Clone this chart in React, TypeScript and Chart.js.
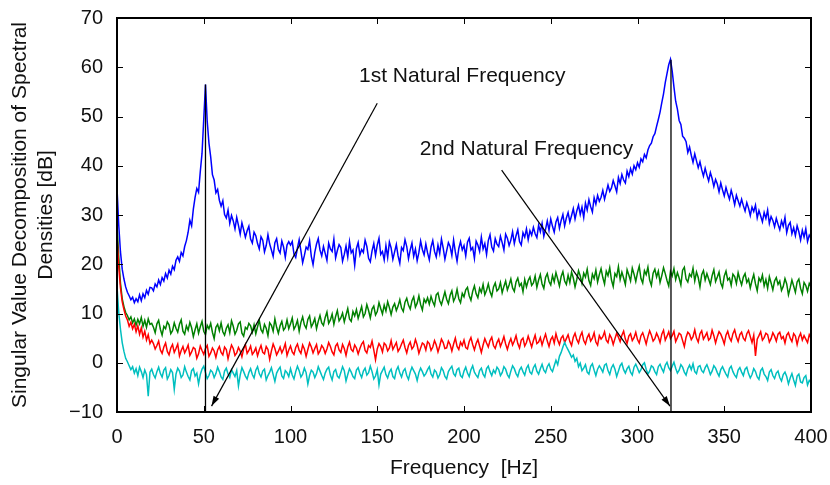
import React, { useEffect, useRef } from "react";
import { Chart, registerables } from "chart.js";

Chart.register(...registerables);

// Frequency resolution of the spectra (Hz per sample), starting at 0 Hz
const FREQ_STEP = 1;

// 1st singular value (blue), 0..400 Hz
const SV1 = [
  35.5, 28.0, 22.5, 19.0, 17.0, 15.4, 14.3, 13.6, 12.8, 13.3, 12.2, 13.0, 12.4, 13.8, 12.6, 14.0, 13.2, 14.7, 13.9, 15.3,
  15.2, 14.6, 16.0, 15.4, 16.8, 15.9, 17.3, 16.6, 18.1, 17.2, 18.8, 18.0, 19.6, 18.9, 20.8, 21.5, 20.6, 22.4, 21.7, 23.6,
  24.8, 26.5, 28.9, 27.8, 31.2, 33.6, 35.4, 34.6, 38.8, 42.5, 49.5, 56.5, 49.0, 44.6, 41.8, 38.2, 37.1, 34.5, 35.2, 33.0,
  31.8, 32.9, 30.1, 29.4, 31.0, 28.3, 29.9, 28.8, 27.2, 29.5, 27.9, 26.1, 28.4, 27.0, 25.5, 26.8, 27.7, 25.1, 24.3, 26.5,
  25.8, 24.2, 23.1, 25.6, 24.9, 22.5, 23.8, 26.0, 24.1, 22.9, 21.6, 24.4, 25.2, 23.0, 22.3, 24.7, 23.5, 21.4, 23.9, 24.6,
  23.9, 24.6, 22.1, 21.4, 23.3, 25.0, 22.7, 20.3, 21.8, 23.5, 23.0, 24.8, 21.6, 19.9, 22.4, 24.1, 25.2, 22.9, 21.7, 23.6,
  22.2, 20.8, 24.3, 23.1, 22.6, 25.1, 21.3, 22.8, 24.0, 23.4, 20.6, 22.0, 23.7, 21.5, 24.6, 22.3, 22.9, 19.8, 23.2, 24.4,
  21.9, 23.0, 22.4, 24.9, 23.6, 21.2, 20.5, 22.7, 24.2, 21.8, 23.9, 25.3, 22.0, 22.6, 20.9, 23.8, 21.4, 24.5, 23.3, 21.0,
  22.5, 24.0, 21.7, 20.2, 23.4, 22.8, 25.0, 23.6, 21.1, 22.9, 24.3, 21.6, 23.1, 20.7, 22.4, 24.7, 23.0, 21.9, 24.1, 22.3,
  20.9, 23.5, 24.8, 22.6, 21.5, 23.9, 22.2, 25.1, 23.3, 21.0, 22.7, 24.4, 23.6, 21.8, 24.9, 22.5, 20.6, 23.2, 24.6, 22.9,
  23.8, 21.7, 24.5, 25.3, 22.9, 23.4, 21.2, 24.7, 23.9, 22.6, 25.5, 23.1, 24.2, 22.0, 24.8, 26.0, 23.5, 22.7, 25.2, 24.1,
  23.6, 25.7, 24.4, 22.9, 26.1, 25.3, 23.8, 24.9, 26.6, 24.2, 25.8, 27.0, 24.6, 23.9, 26.4, 25.5, 27.2, 25.0, 26.8, 25.9,
  27.5, 26.2, 25.4, 27.9, 26.6, 28.3, 25.7, 27.1, 28.8, 26.9, 29.2, 27.7, 26.5, 28.6, 29.5, 27.3, 28.9, 30.1, 27.8, 29.4,
  30.5, 28.6, 29.9, 31.3, 29.2, 30.8, 32.0, 30.1, 31.6, 29.5, 32.4, 31.0, 33.1, 31.7, 30.6, 33.5, 32.2, 34.0, 32.8, 33.6,
  35.0, 33.2, 34.6, 36.1, 34.8, 35.5, 37.0, 35.9, 34.7, 37.6, 36.4, 38.2, 37.1, 36.5, 38.9, 37.8, 39.4, 38.3, 40.0, 39.2,
  40.6, 39.7, 41.4, 40.8, 42.3, 41.6, 43.2, 44.1, 44.6, 45.9, 46.5, 48.0, 49.4, 50.9, 52.8, 54.6, 56.9, 58.7, 60.5, 61.6,
  59.2, 56.0, 53.1, 51.5, 49.2, 48.4, 46.0, 45.6, 44.9, 42.7, 43.8, 42.1, 40.7, 42.4, 41.0, 39.6, 40.8, 39.2, 37.9, 39.5,
  38.1, 36.9, 38.6, 37.4, 35.8, 37.2, 36.3, 34.7, 36.5, 35.1, 33.9, 35.6, 34.3, 33.2, 35.0, 33.7, 32.1, 34.0, 32.9, 31.8,
  33.2, 31.9, 30.8, 32.5, 31.4, 29.9, 31.6, 30.7, 32.0, 29.4, 30.9, 29.8, 28.6, 30.5, 29.3, 31.0, 28.3, 29.7, 28.9, 27.6,
  29.3, 28.1, 27.0, 28.8, 27.7, 29.5, 26.4, 27.9, 28.5, 26.2, 27.4, 25.8, 27.8, 26.6, 24.9, 26.9, 25.5, 27.2, 24.6, 25.9,
  25.3,
];

// 2nd singular value (green)
const SV2 = [
  28.0, 21.5, 16.2, 13.0, 11.4, 10.2, 9.6, 8.7, 9.3, 8.1, 8.9, 7.6, 8.8, 7.9, 9.2, 7.4, 8.6, 7.2, 8.9, 7.8,
  8.0, 7.2, 6.1, 7.9, 8.6, 6.8, 5.6, 7.4, 6.9, 8.3, 7.7, 5.9, 6.5, 8.1, 7.0, 6.2, 7.8, 8.7, 6.4, 5.8,
  7.5, 6.6, 8.2, 7.1, 5.3, 6.7, 7.9, 6.0, 7.3, 8.4, 6.4, 5.7, 7.6, 6.9, 8.0, 6.2, 4.9, 7.2, 7.8, 6.5,
  8.1, 6.3, 5.6, 7.0, 7.7, 6.1, 8.5, 7.4, 5.8, 6.6, 7.9, 8.3, 6.0, 5.4, 7.2, 6.8, 8.0, 7.5, 6.2, 7.7,
  5.9, 7.3, 8.6, 6.7, 6.1, 7.8, 7.0, 5.5, 8.1, 7.6, 6.4, 8.9, 7.2, 6.0, 7.5, 8.4, 6.6, 7.1, 8.7, 6.9,
  7.9, 9.1, 6.8, 7.5, 8.6, 6.4, 8.2, 9.3, 7.7, 7.0, 8.8, 9.5, 7.3, 8.0, 9.0, 6.9, 8.4, 9.6, 8.1, 7.6,
  9.2, 10.3, 8.0, 8.7, 9.9, 7.8, 9.4, 10.6, 8.5, 9.1, 10.1, 8.3, 9.7, 11.0, 8.9, 8.4, 10.4, 9.5, 10.8, 9.0,
  10.2, 11.4, 9.3, 10.0, 11.8, 10.6, 9.1, 10.9, 11.5, 9.7, 10.4, 12.2, 11.0, 9.9, 11.7, 10.5, 12.4, 11.2, 9.8, 11.3,
  12.0, 10.6, 11.5, 12.8, 11.1, 10.4, 12.3, 13.1, 11.7, 10.9, 12.6, 13.4, 11.3, 12.1, 13.6, 11.8, 10.7, 12.9, 12.2, 13.2,
  11.9, 13.5, 12.4, 11.6, 13.8, 14.2, 12.6, 11.8, 13.1, 14.4, 12.9, 12.0, 13.7, 14.6, 12.5, 13.3, 14.9, 13.0, 12.2, 14.1,
  13.4, 14.8, 15.3, 13.6, 12.7, 14.5, 15.6, 14.0, 13.2, 15.1, 14.3, 15.9, 13.8, 14.7, 16.0, 14.4, 13.5, 15.4, 16.2, 14.6,
  15.0, 16.3, 14.2, 15.5, 16.6, 14.8, 15.8, 17.0, 15.2, 14.5, 16.4, 17.2, 15.6, 16.1, 14.4, 16.9, 15.4, 16.7, 17.4, 15.7,
  16.2, 17.6, 15.3, 16.8, 17.9, 16.0, 15.1, 17.3, 18.1, 16.5, 15.8, 17.7, 16.4, 18.3, 17.0, 15.6, 17.5, 18.5, 16.6, 15.9,
  17.8, 16.3, 18.4, 17.2, 15.4, 16.9, 18.7, 17.6, 16.1, 18.2, 17.4, 19.0, 16.7, 15.7, 18.0, 17.1, 18.8, 16.4, 17.9, 19.1,
  17.3, 16.0, 18.6, 17.7, 19.3, 16.8, 15.5, 18.1, 17.5, 19.5, 16.9, 18.4, 17.2, 15.9, 18.9, 17.8, 16.6, 19.2, 18.0, 16.5,
  18.3, 19.6, 17.1, 16.2, 18.7, 17.9, 19.4, 16.8, 15.7, 18.2, 19.0, 17.4, 18.6, 16.3, 17.7, 19.3, 18.1, 16.7, 15.6, 18.5,
  17.6, 19.1, 16.9, 18.3, 17.2, 15.8, 18.8, 19.4, 17.0, 16.4, 18.0, 17.5, 19.2, 16.6, 18.4, 17.3, 15.4, 17.9, 18.7, 16.8,
  18.1, 17.0, 15.9, 17.7, 18.9, 16.5, 17.4, 18.4, 16.2, 15.3, 17.6, 18.6, 16.8, 17.2, 15.7, 18.0, 17.5, 16.1, 18.3, 16.9,
  15.8, 17.4, 18.1, 16.3, 17.0, 15.2, 16.7, 17.9, 16.0, 14.6, 17.2, 16.5, 17.8, 15.6, 16.9, 15.1, 17.5, 16.2, 14.8, 16.6,
  17.3, 15.9, 16.6, 14.7, 15.5, 17.1, 16.0, 13.8, 15.2, 16.8, 15.6, 14.3, 16.4, 17.0, 15.1, 14.0, 16.3, 15.7, 14.5, 16.1,
  15.4,
];

// 3rd singular value (red)
const SV3 = [
  26.0, 19.5, 15.2, 12.4, 10.8, 9.5, 8.7, 7.4, 8.2, 6.9, 7.8, 6.3, 7.5, 5.8, 7.1, 5.2, 6.4, 4.6, 5.7, 3.9,
  4.6, 3.9, 2.8, 3.5, 4.4, 2.6, 1.9, 3.2, 4.0, 2.3, 1.6, 3.0, 3.7, 2.1, 2.9, 3.8, 1.4, 2.5, 3.3, 2.0,
  2.7, 3.6, 1.5, 2.2, 3.1, 2.8, 0.9, 1.8, 3.4, 2.5, 1.7, 2.9, 3.5, 1.3, 2.0, 3.0, 2.4, 1.1, 2.6, 3.3,
  2.1, 1.6, 3.2, 2.7, 0.8, 2.3, 3.6, 2.9, 1.5, 2.0, 3.1, 2.4, 1.2, 2.8, 3.7, 1.9, 2.5, 3.4, 1.7, 2.2,
  3.0, 1.4, 2.6, 3.5, 2.1, 1.8, 3.3, 2.7, 0.7, 2.4, 3.8, 2.9, 1.6, 2.3, 3.2, 2.0, 2.8, 3.9, 1.5, 2.6,
  3.4, 2.2, 1.7, 3.1, 3.8, 2.5, 1.9, 3.6, 2.8, 1.3, 2.7, 4.0, 3.2, 2.0, 2.9, 3.7, 1.8, 2.4, 3.5, 3.0,
  1.9, 2.8, 4.1, 3.3, 2.2, 1.6, 3.4, 3.9, 2.6, 2.1, 3.7, 2.9, 1.5, 3.2, 4.2, 2.7, 2.3, 3.6, 3.0, 1.8,
  2.9, 3.8, 4.3, 2.5, 2.0, 3.5, 3.1, 4.4, 2.6, 0.6, 2.8, 3.9, 3.3, 2.2, 4.0, 3.6, 2.4, 3.0, 4.5, 2.7,
  3.4, 4.1, 2.3, 2.9, 3.8, 4.6, 3.1, 2.0, 3.5, 4.2, 2.8, 3.3, 4.7, 3.6, 1.9, 3.0, 4.0, 3.7, 2.6, 4.3,
  3.9, 2.5, 3.2, 4.5, 3.6, 2.2, 3.4, 4.8, 4.1, 2.9, 3.0, 4.4, 3.7, 2.4, 3.8, 5.0, 3.3, 2.7, 4.2, 3.5,
  4.6, 3.1, 2.8, 4.3, 5.1, 3.7, 2.6, 3.9, 4.7, 3.4, 2.1, 3.6, 4.9, 4.0, 3.2, 4.5, 5.2, 3.5, 2.9, 4.1,
  4.8, 3.3, 4.2, 5.3, 3.8, 2.7, 4.0, 4.9, 3.6, 4.4, 5.5, 3.9, 3.0, 4.6, 5.0, 3.4, 4.1, 5.4, 4.3, 3.2,
  4.5, 5.6, 3.9, 4.2, 5.1, 3.6, 4.8, 5.8, 4.4, 3.3, 4.7, 5.3, 4.0, 5.9, 4.6, 3.7, 5.0, 5.5, 4.1, 4.9,
  5.7, 4.3, 3.5, 5.2, 6.0, 4.7, 4.0, 5.4, 6.2, 4.5, 3.8, 5.1, 5.8, 4.4, 5.0, 6.1, 4.2, 3.6, 5.5, 4.8,
  5.3, 6.3, 4.6, 4.1, 5.7, 5.0, 3.7, 4.9, 6.0, 5.2, 4.3, 5.6, 6.4, 4.8, 3.9, 5.4, 5.9, 4.5, 5.1, 6.2,
  4.7, 4.0, 5.5, 6.1, 5.0, 3.8, 5.3, 6.5, 5.6, 4.4, 4.9, 6.0, 5.2, 4.1, 5.8, 6.6, 4.6, 5.4, 6.3, 4.9,
  5.5, 6.4, 4.3, 5.1, 6.0, 5.7, 4.5, 3.3, 5.2, 6.2, 5.8, 4.7, 5.3, 6.7, 5.0, 4.2, 5.9, 6.5, 4.8, 5.4,
  6.1, 4.6, 5.0, 6.6, 5.5, 4.0, 5.3, 6.3, 5.8, 4.9, 3.8, 5.6, 6.4, 5.1, 4.4, 5.9, 6.7, 5.2, 4.3, 5.7,
  6.2, 5.0, 4.5, 5.9, 6.5, 5.3, 4.1, 5.6, 1.4, 4.8, 5.5, 6.3, 4.6, 5.1, 6.0, 5.7, 4.2, 4.9, 6.1, 5.4,
  4.4, 5.8, 6.2, 4.9, 5.3, 4.0, 5.6, 6.1, 5.0, 4.3, 5.9, 5.4, 3.7, 5.2, 6.0, 4.6, 5.5, 4.8, 4.1, 5.7,
  5.0,
];

// 4th singular value (cyan)
const SV4 = [
  15.5, 10.2, 6.8, 4.1, 2.3, 0.9, 0.2, -0.6, -1.4, -0.8, -2.1, -1.2, -2.6, -0.9, -1.8, -3.0, -1.5, -2.4, -6.8, -1.9,
  -1.3, -2.4, -3.1, -1.8, -0.9, -2.2, -2.9, -1.5, -1.0, -3.3, -2.6, -1.4, -2.0, -5.4, -2.3, -1.1, -1.7, -3.0, -2.5, -0.8,
  -1.9, -2.8, -3.5, -1.6, -1.2, -2.7, -2.1, -4.3, -2.4, -1.3, -0.7, -2.0, -3.2, -2.6, -1.5, -1.9, -3.0, -2.2, -0.9, -1.8,
  -2.9, -3.4, -1.7, -1.1, -2.3, -3.0, -1.4, -2.1, -2.8, -1.6, -4.7, -2.5, -1.0, -1.8, -2.7, -3.3, -2.0, -1.2, -2.4, -3.1,
  -1.5, -0.8, -2.2, -2.9, -1.7, -1.3, -3.5, -2.6, -1.9, -1.0, -2.4, -3.8, -2.1, -1.4, -0.9, -2.7, -3.2, -1.6, -2.0, -2.8,
  -1.2, -2.5, -3.3, -1.8, -0.7, -1.6, -2.9, -2.3, -1.1, -2.0, -4.3, -2.6, -1.5, -1.9, -3.0, -2.2, -0.8, -1.7, -2.6, -3.4,
  -2.1, -1.3, -0.9, -2.5, -3.5, -1.8, -1.4, -2.7, -3.1, -2.0, -0.8, -1.6, -3.7, -2.4, -1.2, -1.9, -2.8, -3.2, -1.5, -1.0,
  -2.2, -3.0, -1.7, -1.1, -2.5, -2.0, -0.7, -1.8, -3.3, -2.7, -1.4, -4.5, -2.3, -1.6, -0.9, -2.4, -3.1, -1.9, -1.3, -2.8,
  -3.2, -1.5, -0.8, -2.1, -2.9, -1.7, -1.2, -2.6, -3.4, -1.9, -0.9, -1.6, -2.3, -3.6, -2.0, -1.1, -1.8, -2.7, -2.2, -1.4,
  -0.8, -2.3, -2.9, -1.5, -1.9, -3.1, -2.4, -1.0, -1.6, -2.8, -3.3, -1.8, -1.2, -0.7, -2.2, -2.7, -1.4, -1.1, -2.6, -3.0,
  -1.7, -0.9, -2.1, -2.8, -1.4, -0.6, -1.9, -2.5, -3.0, -1.6, -1.1, -2.3, -2.9, -1.2, -0.7, -1.8, -2.6, -1.5, -2.1, -0.9,
  -1.4, -2.6, -2.0, -0.8, -1.3, -2.4, -3.0, -1.7, -0.6, -1.2, -2.2, -2.8, -1.5, -0.9, -1.8, -2.5, -1.1, -0.5, -1.9, -2.3,
  -1.0, -0.4, -1.7, -2.3, -1.2, -0.3, -1.5, -2.0, -0.8, -0.2, -1.3, -1.8, -0.6, 0.5, -0.4, 1.3, 2.1, 3.2, 4.1, 3.3,
  2.6, 1.9, 1.1, 1.6, 0.3, 0.9, -0.8, -0.1, -1.6, -1.1, -0.4, -1.9, -2.3, -0.7, -0.2, -1.5, -2.6, -1.3, -0.6, -1.2,
  -1.9, -0.5, -0.2, -1.6, -2.4, -1.0, -0.4, -1.3, -2.8, -1.7, -0.6, -0.1, -1.4, -2.1, -1.2, -0.7, -1.9, -2.5, -0.9, -0.3,
  -1.1, -2.0, -1.4, -0.4, 0.0, -1.3, -2.3, -1.7, -0.6, -0.9, -1.8, -2.4, -0.8, -0.3, -1.2, -1.9, -0.5, 0.1, -1.0, -1.6,
  -0.7, 0.1, -1.1, -2.1, -1.5, -0.4, -0.9, -1.9, -2.5, -1.2, -0.5, -1.4, -0.2, -1.8, -2.2, -0.8, -0.6, -1.6, -2.0, -1.0,
  -0.4, -1.3, -2.4, -1.7, -0.6, -1.1, -2.0, -2.7, -1.4, -0.8, -1.6, -2.3, -2.9, -1.2, -0.7, -1.8, -2.5, -3.0, -1.5, -1.0,
  -1.9, -2.6, -1.3, -0.9, -2.2, -3.1, -2.4, -1.2, -1.8, -2.9, -3.4, -1.6, -1.1, -2.3, -2.8, -3.6, -1.9, -1.4, -2.6, -3.2,
  -2.1, -1.7, -3.0, -3.7, -2.4, -1.9, -2.8, -4.3, -3.1, -2.2, -3.5, -4.6, -2.7, -2.3, -3.9, -4.1, -3.0, -2.6, -4.5, -3.6,
  -4.0,
];

// Identified natural frequencies (Hz) and their peak levels (dB)
const MODE_FREQS = [51, 319.3];
const MODE_PEAKS = [56.5, 61.5];
const AXIS_FLOOR = -10;

// Annotations: label anchor and arrow (data units: Hz, dB)
const ANNOT_TEXTS = ["1st Natural Frequency", "2nd Natural Frequency"];
const ANNOT_TEXT_AT = [[199, 58.2], [236, 43.4]];
const ANNOT_ARROW_FROM = [[150, 52.7], [221.7, 39.1]];
const ANNOT_ARROW_TO = [[54.5, -8.8], [318.7, -8.8]];

const X_TICKS = [0, 50, 100, 150, 200, 250, 300, 350, 400];
const Y_TICKS = [-10, 0, 10, 20, 30, 40, 50, 60, 70];

const FONT = "'Liberation Sans', Arial, Helvetica, sans-serif";

const toPoints = (vals: number[]) => vals.map((v, i) => ({ x: i * FREQ_STEP, y: v }));

const zeroScalePadding = (s: any) => {
  s.paddingTop = 0;
  s.paddingBottom = 0;
  s.paddingLeft = 0;
  s.paddingRight = 0;
};

const framePlugin = {
  id: "frameAndNotes",
  afterDatasetsDraw(chart: any) {
    const { ctx, chartArea: a, scales } = chart;
    const xs = scales.x;
    const ys = scales.y;
    ctx.save();
    // inner ticks on all four sides
    ctx.strokeStyle = "#000";
    ctx.lineWidth = 1;
    ctx.beginPath();
    X_TICKS.forEach((t) => {
      const px = Math.round(xs.getPixelForValue(t)) + 0.5;
      ctx.moveTo(px, a.bottom);
      ctx.lineTo(px, a.bottom - 6);
      ctx.moveTo(px, a.top);
      ctx.lineTo(px, a.top + 6);
    });
    Y_TICKS.forEach((t) => {
      const py = Math.round(ys.getPixelForValue(t)) + 0.5;
      ctx.moveTo(a.left, py);
      ctx.lineTo(a.left + 6, py);
      ctx.moveTo(a.right, py);
      ctx.lineTo(a.right - 6, py);
    });
    ctx.stroke();
    // frame
    ctx.lineWidth = 2;
    ctx.strokeRect(a.left, a.top, a.right - a.left, a.bottom - a.top);

    // annotations
    ctx.font = `21px ${FONT}`;
    ctx.textAlign = "center";
    ctx.textBaseline = "middle";
    ANNOT_TEXTS.forEach((txt, i) => {
      const [tx, ty] = ANNOT_TEXT_AT[i];
      ctx.fillStyle = "#111";
      ctx.fillText(txt, xs.getPixelForValue(tx), ys.getPixelForValue(ty));
      const x1 = xs.getPixelForValue(ANNOT_ARROW_FROM[i][0]);
      const y1 = ys.getPixelForValue(ANNOT_ARROW_FROM[i][1]);
      const x2 = xs.getPixelForValue(ANNOT_ARROW_TO[i][0]);
      const y2 = ys.getPixelForValue(ANNOT_ARROW_TO[i][1]);
      ctx.strokeStyle = "#000";
      ctx.lineWidth = 1.2;
      ctx.beginPath();
      ctx.moveTo(x1, y1);
      ctx.lineTo(x2, y2);
      ctx.stroke();
      const ang = Math.atan2(y2 - y1, x2 - x1);
      const L = 10;
      const W = 3.2;
      const bx = x2 - L * Math.cos(ang);
      const by = y2 - L * Math.sin(ang);
      ctx.fillStyle = "#000";
      ctx.beginPath();
      ctx.moveTo(x2, y2);
      ctx.lineTo(bx + W * Math.sin(ang), by - W * Math.cos(ang));
      ctx.lineTo(bx - W * Math.sin(ang), by + W * Math.cos(ang));
      ctx.closePath();
      ctx.fill();
    });
    ctx.restore();
  },
};

export default function App() {
  const canvasRef = useRef<HTMLCanvasElement | null>(null);

  useEffect(() => {
    if (!canvasRef.current) return;
    Chart.defaults.font.family = FONT;
    const markerSets = MODE_FREQS.map((f, i) => ({
      label: `mode${i + 1}`,
      data: [
        { x: f, y: MODE_PEAKS[i] },
        { x: f, y: AXIS_FLOOR },
      ],
      borderColor: "#000",
      borderWidth: 1.3,
      pointRadius: 0,
      order: 0,
    }));
    const LW = 1.5;
    const chart = new Chart(canvasRef.current, {
      type: "line",
      data: {
        datasets: [
          ...markerSets,
          { label: "SV4", data: toPoints(SV4), borderColor: "#00BFBF", borderWidth: LW, pointRadius: 0, order: 1 },
          { label: "SV3", data: toPoints(SV3), borderColor: "#FF0000", borderWidth: LW, pointRadius: 0, order: 2 },
          { label: "SV2", data: toPoints(SV2), borderColor: "#008000", borderWidth: LW, pointRadius: 0, order: 3 },
          { label: "SV1", data: toPoints(SV1), borderColor: "#0000FF", borderWidth: LW, pointRadius: 0, order: 4 },
        ],
      },
      options: {
        responsive: false,
        animation: false,
        events: [],
        layout: { padding: { top: 18, right: 19, left: 0, bottom: 0 } },
        plugins: {
          legend: { display: false },
          tooltip: { enabled: false },
        },
        elements: { line: { tension: 0 } },
        scales: {
          x: {
            type: "linear",
            min: 0,
            max: 400,
            afterBuildTicks: (s: any) => {
              s.ticks = X_TICKS.map((v) => ({ value: v }));
            },
            ticks: {
              color: "#111",
              font: { size: 20, family: FONT },
              padding: 13,
              maxRotation: 0,
              autoSkip: false,
            },
            grid: { display: false, drawTicks: false },
            border: { display: false },
            title: {
              display: true,
              text: "Frequency  [Hz]",
              color: "#111",
              font: { size: 21, family: FONT },
              padding: { top: 0, bottom: 4 },
            },
            afterFit: (s: any) => {
              s.height = 73;
              zeroScalePadding(s);
            },
          },
          y: {
            type: "linear",
            min: -10,
            max: 70,
            afterBuildTicks: (s: any) => {
              s.ticks = Y_TICKS.map((v) => ({ value: v }));
            },
            ticks: {
              color: "#111",
              font: { size: 20, family: FONT },
              padding: 14,
              callback: (v: any) => (Number(v) < 0 ? `\u2212${Math.abs(Number(v))}` : `${v}`),
            },
            grid: { display: false, drawTicks: false },
            border: { display: false },
            title: {
              display: true,
              text: ["Singular Value Decomposition of Spectral", "Densities [dB]"],
              color: "#111",
              font: { size: 21, family: FONT, lineHeight: 1.25 },
              padding: { top: 7, bottom: 0 },
            },
            afterFit: (s: any) => {
              s.width = 117;
              zeroScalePadding(s);
            },
          },
        },
      },
      plugins: [framePlugin],
    });
    return () => chart.destroy();
  }, []);

  return (
    <div style={{ position: "fixed", left: 0, top: 0, width: 830, height: 485, background: "#fff" }}>
      <canvas ref={canvasRef} width={830} height={485} style={{ width: 830, height: 485 }} />
    </div>
  );
}
